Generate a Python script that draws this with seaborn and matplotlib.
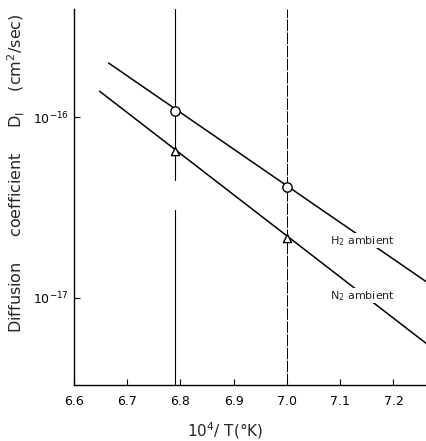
import numpy as np
import pandas as pd
import matplotlib
matplotlib.use("Agg")
import matplotlib.pyplot as plt
import seaborn as sns

# measured points (10^4/T, D in cm2/sec)
inv_temp = [6.79, 7.00]
d_h2 = [1.08e-16, 4.1e-17]
d_n2 = [6.5e-17, 2.14e-17]

# ends of the drawn lines
h2_line_x = [6.665, 7.265]
h2_line_d = [1.99e-16, 1.21e-17]
n2_line_x = [6.648, 7.265]
n2_line_d = [1.39e-16, 5.5e-18]

x_ticks = [6.6, 6.7, 6.8, 6.9, 7.0, 7.1, 7.2]
x_ticklabels = ["6.6", "6.7", "6.8", "6.9", "7.0", "7.1", "7.2"]
y_ticks = [1e-16, 1e-17]
y_ticklabels = [r"$10^{-16}$", r"$10^{-17}$"]

sns.set_theme(style="ticks")
plt.rcParams["font.family"] = ["DejaVu Sans"]

fig = plt.figure(figsize=(4.27, 4.41), dpi=100)
ax = fig.add_axes([74 / 427, 56 / 441, 1 - 74 / 427, (385 - 9) / 441])

lines = pd.concat([
    pd.DataFrame({"x": h2_line_x, "d": h2_line_d, "gas": "H2"}),
    pd.DataFrame({"x": n2_line_x, "d": n2_line_d, "gas": "N2"}),
])
sns.lineplot(data=lines, x="x", y="d", units="gas", estimator=None,
             color="black", lw=1.1, ax=ax, zorder=2)

# vertical guide lines at the two temperatures
ax.axvline(inv_temp[0], ymin=0, ymax=0.465, color="black", lw=0.8, zorder=1)
ax.axvline(inv_temp[0], ymin=0.545, ymax=1, color="black", lw=0.8, zorder=1)
ax.axvline(inv_temp[1], color="black", lw=0.7, ls=(0, (12, 1.5)), zorder=1)

pts_h2 = pd.DataFrame({"x": inv_temp, "d": d_h2})
pts_n2 = pd.DataFrame({"x": inv_temp, "d": d_n2})
sns.scatterplot(data=pts_h2, x="x", y="d", marker="o", s=45,
                facecolor="white", edgecolor="black", linewidth=1.0, ax=ax, zorder=3)
sns.scatterplot(data=pts_n2, x="x", y="d", marker="^", s=35,
                facecolor="white", edgecolor="black", linewidth=1.0, ax=ax, zorder=3)

ax.set_yscale("log")
ax.set_xlim(6.6, 7.263)
ax.set_ylim(3.3e-18, 3.96e-16)
ax.set_xticks(x_ticks)
ax.set_xticklabels(x_ticklabels)
ax.set_yticks(y_ticks)
ax.set_yticklabels(y_ticklabels)
ax.minorticks_off()
ax.tick_params(direction="in", length=4, width=0.8, labelsize=9, colors="black")
ax.tick_params(axis="x", pad=7)

sns.despine(ax=ax)
for s in ["left", "bottom"]:
    ax.spines[s].set_color("black")
    ax.spines[s].set_linewidth(1.0)

ax.set_xlabel(r"10$^4$/ T(°K)", fontsize=11, labelpad=2)
ax.xaxis.set_label_coords(0.428, -0.095)
ax.set_ylabel("")
fig.text(16 / 427, 1 - 173 / 441,
         r"Diffusion     coefficient     D$_\mathrm{I}$    (cm$^2$/sec)",
         rotation=90, ha="center", va="center", fontsize=11.5)

bbox = dict(facecolor="white", edgecolor="none", pad=0.5)
ax.text(7.081, 2.07e-17, r"H$_2$ ambient", fontsize=8, va="center", ha="left", bbox=bbox, zorder=4)
ax.text(7.081, 1.03e-17, r"N$_2$ ambient", fontsize=8, va="center", ha="left", bbox=bbox, zorder=4)

fig.savefig("out.png", dpi=100)
